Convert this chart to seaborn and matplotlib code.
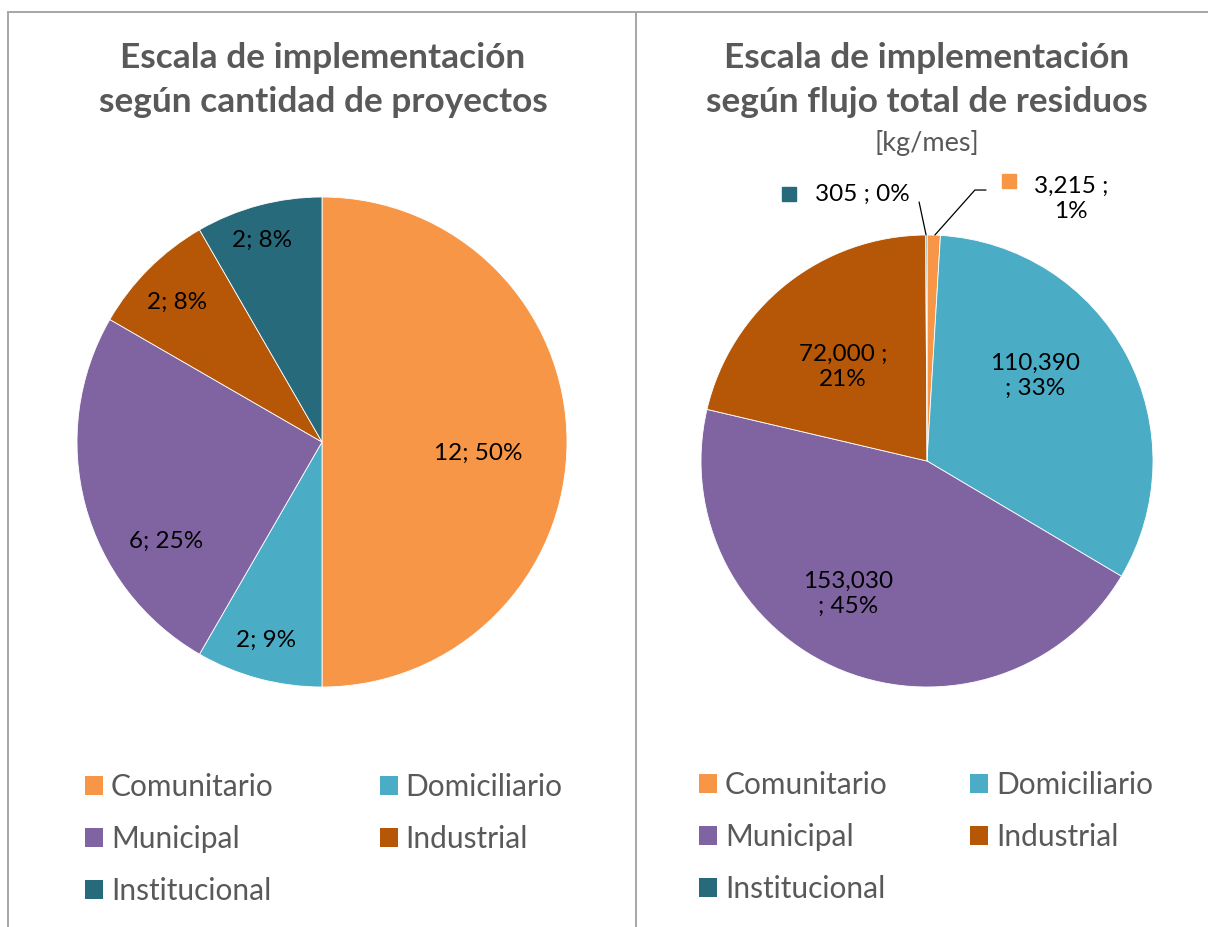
import matplotlib
matplotlib.use("Agg")
import matplotlib.pyplot as plt
import seaborn as sns
from matplotlib.patches import Patch
from matplotlib.lines import Line2D

# ---------------- data ----------------
categories = ["Comunitario", "Domiciliario", "Municipal", "Industrial", "Institucional"]
proyectos = [12, 2, 6, 2, 2]
proyectos_pct = ["50%", "9%", "25%", "8%", "8%"]
flujo = [3215, 110390, 153030, 72000, 305]
flujo_pct = ["1%", "33%", "45%", "21%", "0%"]
colors = ["#F79646", "#4BACC6", "#8064A2", "#B65708", "#276A7C"]

title_left = "Escala de implementación\nsegún cantidad de proyectos"
title_right = "Escala de implementación\nsegún flujo total de residuos"
subtitle_right = "[kg/mes]"

# ---------------- style ----------------
sns.set_theme(style="white")
plt.rcParams["font.family"] = ["Lato", "DejaVu Sans"]
palette = sns.color_palette(colors)
GREY = "#595959"

W, H = 1208, 927
fig = plt.figure(figsize=(W / 100, H / 100), dpi=100)


def px_axes(cx, cy, r):
    return fig.add_axes([(cx - r) / W, 1 - (cy + r) / H, 2 * r / W, 2 * r / H])


axL = px_axes(322, 442, 245)
axR = px_axes(927, 461, 226)
for ax, vals in ((axL, proyectos), (axR, flujo)):
    ax.pie(vals, colors=palette, startangle=90, counterclock=False, radius=1,
           wedgeprops=dict(edgecolor="white", linewidth=0.6))
    ax.set_xlim(-1, 1)
    ax.set_ylim(-1, 1)
    ax.set_aspect("equal")
    ax.axis("off")

# ---------------- left labels ----------------
left_pos = [(0.637, -0.045), (-0.229, -0.808), (-0.637, -0.404), (-0.592, 0.571), (-0.245, 0.824)]
for v, p, (x, y) in zip(proyectos, proyectos_pct, left_pos):
    axL.text(x, y, f"{v}; {p}", ha="center", va="center", fontsize=17.5, color="black")

# ---------------- right labels ----------------
seps = [" ;\n", "\n; ", "\n; ", " ;\n", " ; "]
right_pos = [(0.637, 1.16), (0.478, 0.376), (-0.350, -0.588), (-0.372, 0.416), (-0.288, 1.181)]
for v, p, s, (x, y) in zip(flujo, flujo_pct, seps, right_pos):
    axR.text(x, y, f"{v:,}{s}{p}", ha="center", va="center", fontsize=17.5,
             color="black", linespacing=1.22)

# legend keys and leader lines for the outside labels
axR.plot([0.365], [1.24], marker="s", ms=9.5, color=palette[0], clip_on=False)
axR.plot([-0.611], [1.181], marker="s", ms=9.5, color=palette[4], clip_on=False)
axR.plot([0.035, 0.212, 0.261], [1.0, 1.199, 1.199], color="black", lw=0.9, clip_on=False)
axR.plot([-0.004, -0.035], [1.0, 1.146], color="black", lw=0.9, clip_on=False)

# ---------------- titles ----------------
fig.text(323 / W, 1 - 80 / H, title_left, ha="center", va="center", fontsize=25.4,
         fontweight="bold", color=GREY, linespacing=1.48)
fig.text(927 / W, 1 - 80 / H, title_right, ha="center", va="center", fontsize=25.4,
         fontweight="bold", color=GREY, linespacing=1.48)
fig.text(927 / W, 1 - 143 / H, subtitle_right, ha="center", va="center", fontsize=19.5, color=GREY)

# ---------------- legends ----------------
handles = [Patch(facecolor=c, edgecolor="none") for c in palette]
order = [0, 2, 4, 1, 3]
for x0, y0, cs in ((58, 746, 3.55), (672, 744, 2.77)):
    fig.legend([handles[i] for i in order], [categories[i] for i in order], ncol=2,
               loc="upper left", bbox_to_anchor=(x0 / W, 1 - y0 / H), frameon=False,
               fontsize=21.5, labelcolor=GREY, handlelength=0.6, handleheight=0.6,
               handletextpad=0.27, columnspacing=cs, labelspacing=0.81)

# ---------------- frame lines ----------------
lc = "#A6A6A6"
fig.add_artist(Line2D([8 / W, 1], [1 - 12 / H, 1 - 12 / H], color=lc, lw=1.4))
fig.add_artist(Line2D([8 / W, 8 / W], [0, 1 - 12 / H], color=lc, lw=1.4))
fig.add_artist(Line2D([636 / W, 636 / W], [0, 1 - 12 / H], color=lc, lw=1.4))

fig.savefig("out.png", dpi=100)
